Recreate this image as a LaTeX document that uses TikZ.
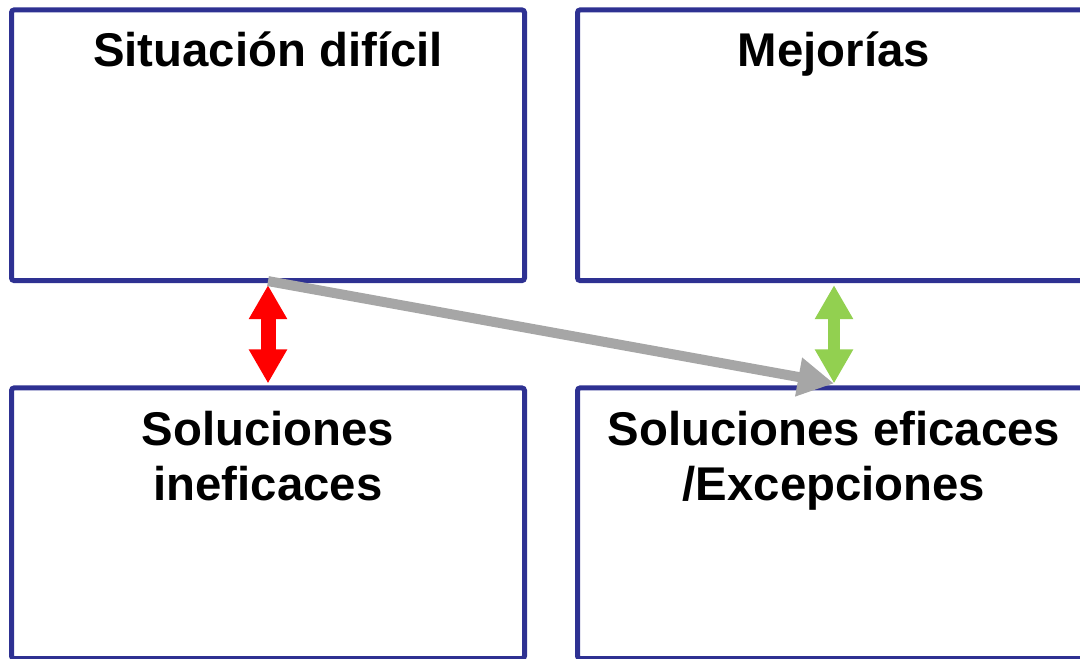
\documentclass[tikz,border=0pt]{standalone}
\usepackage{fontspec}
\setmainfont{Liberation Sans}
\usetikzlibrary{arrows.meta}
\definecolor{boxblue}{RGB}{46,49,146}
\definecolor{arrred}{RGB}{255,0,0}
\definecolor{arrgreen}{RGB}{146,208,80}
\definecolor{arrgray}{RGB}{166,166,166}
\begin{document}
\begin{tikzpicture}[x=0.75pt,y=-0.75pt,
  panel/.style={draw=boxblue,line width=3.75pt,rounded corners=2pt,minimum width=384.75pt,minimum height=203pt,inner sep=0pt},
  title/.style={font=\fontsize{35.5}{41.25}\selectfont\bfseries,align=center,inner sep=0pt,anchor=base},
  dblarrow/.style={line width=#1,{Triangle[length=25.5pt,width=27pt]}-{Triangle[length=25.5pt,width=27pt]}},
  grayarrow/.style={draw=arrgray,line width=7.5pt,-{Triangle[length=27pt,width=27.75pt]}}]
\useasboundingbox (0,0) rectangle (1080,659);
\node[panel] (tl) at (268,145.25) {};
\node[panel] (tr) at (834,145.25) {};
\node[panel] (bl) at (268,523.25) {};
\node[panel] (br) at (834,523.25) {};
\node[title] (tlt) at (268,67) {Situación difícil};
\node[title] (trt) at (834,67) {Mejorías};
\node[title] (blt) at (268,500) {Soluciones\\ineficaces};
\node[title] (brt) at (834,500) {Soluciones eficaces\\/Excepciones};
\draw[dblarrow=11.25pt,draw=arrred] ([yshift=-1.5pt]tl.south) -- ([yshift=1.5pt]bl.north);
\draw[dblarrow=9pt,draw=arrgreen] ([yshift=-1.5pt]tr.south) -- ([yshift=1.5pt]br.north);
\draw[grayarrow] ([yshift=1.5pt]tl.south) -- ([yshift=1.5pt]br.north);
\end{tikzpicture}
\end{document}
